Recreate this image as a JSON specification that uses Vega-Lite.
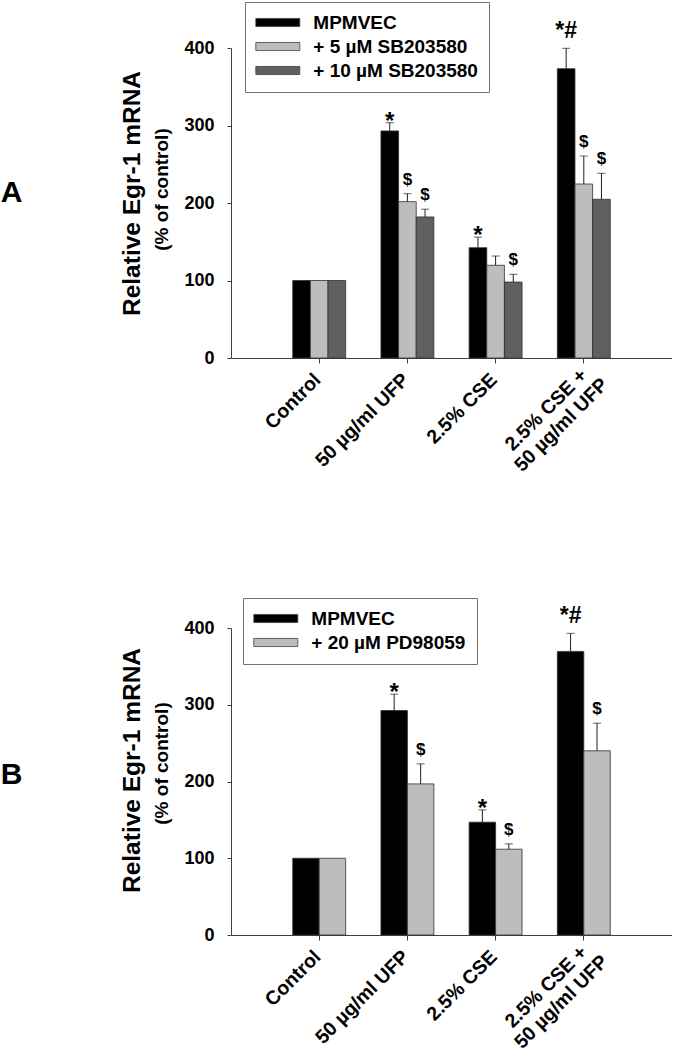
{
  "$schema": "https://vega.github.io/schema/vega-lite/v6.json",
  "padding": {"left": 0, "top": 1, "right": 0, "bottom": 0},
  "background": "white",
  "config": {
    "font": "Liberation Sans",
    "view": {"stroke": null},
    "axis": {
      "labelFont": "Liberation Sans", "labelFontWeight": "bold", "labelColor": "black",
      "titleFont": "Liberation Sans", "titleFontWeight": "bold", "titleColor": "black",
      "domainColor": "#404040", "tickColor": "#404040", "grid": false
    },
    "legend": {
      "labelFont": "Liberation Sans", "labelFontWeight": "bold", "labelFontSize": 19, "labelColor": "black", "labelLimit": 300,
      "symbolType": "M-3,-0.55H3V0.55H-3Z", "symbolSize": 215, "symbolOpacity": 1,
      "symbolStrokeColor": "#404040", "symbolStrokeWidth": 0.8, "symbolOffset": 12.3,
      "strokeColor": "#707070", "fillColor": "white", "padding": 11, "rowPadding": 4, "labelOffset": 26
    }
  },
  "datasets": {
    "a": [
      {"cat": "Control", "series": "MPMVEC", "value": 100, "upper": null, "sig": ""},
      {"cat": "Control", "series": "+ 5 µM SB203580", "value": 100, "upper": null, "sig": ""},
      {"cat": "Control", "series": "+ 10 µM SB203580", "value": 100, "upper": null, "sig": ""},
      {"cat": "50 µg/ml UFP", "series": "MPMVEC", "value": 293, "upper": 303.6, "sig": "*"},
      {"cat": "50 µg/ml UFP", "series": "+ 5 µM SB203580", "value": 201.7, "upper": 212, "sig": "$"},
      {"cat": "50 µg/ml UFP", "series": "+ 10 µM SB203580", "value": 182, "upper": 192, "sig": "$"},
      {"cat": "2.5% CSE", "series": "MPMVEC", "value": 142.3, "upper": 156, "sig": "*"},
      {"cat": "2.5% CSE", "series": "+ 5 µM SB203580", "value": 119.6, "upper": 131.6, "sig": ""},
      {"cat": "2.5% CSE", "series": "+ 10 µM SB203580", "value": 98, "upper": 108, "sig": "$"},
      {"cat": "2.5% CSE + 50 µg/ml UFP", "series": "MPMVEC", "value": 373.3, "upper": 399.6, "sig": "*#"},
      {"cat": "2.5% CSE + 50 µg/ml UFP", "series": "+ 5 µM SB203580", "value": 224.5, "upper": 260.6, "sig": "$"},
      {"cat": "2.5% CSE + 50 µg/ml UFP", "series": "+ 10 µM SB203580", "value": 204.8, "upper": 238.3, "sig": "$"}
    ],
    "b": [
      {"cat": "Control", "series": "MPMVEC", "value": 100, "upper": null, "sig": ""},
      {"cat": "Control", "series": "+ 20 µM PD98059", "value": 100, "upper": null, "sig": ""},
      {"cat": "50 µg/ml UFP", "series": "MPMVEC", "value": 292.5, "upper": 313.8, "sig": "*"},
      {"cat": "50 µg/ml UFP", "series": "+ 20 µM PD98059", "value": 196.9, "upper": 223, "sig": "$"},
      {"cat": "2.5% CSE", "series": "MPMVEC", "value": 147, "upper": 163, "sig": "*"},
      {"cat": "2.5% CSE", "series": "+ 20 µM PD98059", "value": 111.8, "upper": 118.7, "sig": "$"},
      {"cat": "2.5% CSE + 50 µg/ml UFP", "series": "MPMVEC", "value": 369.5, "upper": 393, "sig": "*#"},
      {"cat": "2.5% CSE + 50 µg/ml UFP", "series": "+ 20 µM PD98059", "value": 240, "upper": 276, "sig": "$"}
    ]
  },
  "spacing": 122,
  "resolve": {"scale": {"color": "independent", "xOffset": "independent"}, "legend": {"color": "independent"}},
  "vconcat": [
    {
      "title": {"text": "A", "orient": "left", "angle": 0, "align": "right", "baseline": "middle", "fontSize": 30, "fontWeight": "bold", "offset": 75, "dy": -10, "color": "black", "font": "Liberation Sans"},
      "width": 441, "height": 310,
      "data": {"name": "a"},
      "layer": [
        {
          "encoding": {
            "x": {"field": "cat", "type": "nominal", "sort": ["Control", "50 µg/ml UFP", "2.5% CSE", "2.5% CSE + 50 µg/ml UFP"],
              "scale": {"paddingInner": 0.4, "paddingOuter": 0.7},
              "axis": {"title": null, "labelAngle": -45, "labelFontSize": 19.5, "tickSize": 5,
                "labelAlign": {"condition": {"test": "datum.value == '2.5% CSE + 50 µg/ml UFP'", "value": "center"}, "value": "right"},
                "labelOffset": {"condition": {"test": "datum.value == '2.5% CSE + 50 µg/ml UFP'", "value": -44}, "value": -8},
                "labelPadding": {"condition": {"test": "datum.value == '2.5% CSE + 50 µg/ml UFP'", "value": 40}, "value": 7},
                "labelExpr": "datum.label == '2.5% CSE + 50 µg/ml UFP' ? ['2.5% CSE +', '50 µg/ml UFP'] : datum.label"}},
            "xOffset": {"field": "series", "type": "nominal", "sort": ["MPMVEC", "+ 5 µM SB203580", "+ 10 µM SB203580"], "scale": {"domain": ["MPMVEC", "+ 5 µM SB203580", "+ 10 µM SB203580"], "paddingInner": 0, "paddingOuter": 0}}
          },
          "layer": [
            {"mark": {"type": "bar", "stroke": "#303030", "strokeWidth": 0.8},
             "encoding": {
               "y": {"field": "value", "type": "quantitative", "scale": {"domain": [0, 400]},
                 "axis": {"values": [0, 100, 200, 300, 400], "title": "(% of control)", "titleFontSize": 19, "titlePadding": 12, "titleY": 141, "labelFontSize": 18, "tickSize": 4, "labelPadding": 13}},
               "color": {"field": "series", "type": "nominal", "sort": ["MPMVEC", "+ 5 µM SB203580", "+ 10 µM SB203580"],
                 "scale": {"domain": ["MPMVEC", "+ 5 µM SB203580", "+ 10 µM SB203580"], "range": ["#000000", "#bdbdbd", "#606060"]},
                 "legend": {"title": null, "orient": "none", "legendX": 14, "legendY": -46}}
             }},
            {"transform": [{"filter": "datum.upper != null"}], "mark": {"type": "rule", "color": "#202020", "strokeWidth": 1},
             "encoding": {"y": {"field": "value", "type": "quantitative"}, "y2": {"field": "upper"}}},
            {"transform": [{"filter": "datum.upper != null"}], "mark": {"type": "tick", "orient": "horizontal", "color": "#202020", "thickness": 1, "size": 8},
             "encoding": {"y": {"field": "upper", "type": "quantitative"}}},
            {"transform": [{"filter": "datum.sig == '$'"}], "mark": {"type": "text", "fontSize": 17, "fontWeight": "bold", "baseline": "alphabetic", "dy": -9, "color": "black"},
             "encoding": {"y": {"field": "upper", "type": "quantitative"}, "text": {"field": "sig"}}},
            {"transform": [{"filter": "datum.sig == '*'"}], "mark": {"type": "text", "fontSize": 24, "fontWeight": "bold", "baseline": "alphabetic", "dy": 6, "color": "black"},
             "encoding": {"y": {"field": "upper", "type": "quantitative"}, "text": {"field": "sig"}}},
            {"transform": [{"filter": "datum.sig == '*#'"}], "mark": {"type": "text", "fontSize": 23, "fontWeight": "bold", "baseline": "alphabetic", "dy": -10, "color": "black"},
             "encoding": {"y": {"field": "upper", "type": "quantitative"}, "text": {"field": "sig"}}}
          ]
        },
        {"mark": {"type": "rule", "opacity": 0},
         "encoding": {"y": {"field": "value", "type": "quantitative", "scale": {"domain": [0, 400]},
           "axis": {"orient": "left", "title": "Relative Egr-1 mRNA", "titleFontSize": 24.5, "labels": false, "ticks": false, "domain": false, "titlePadding": 87, "titleY": 145}}}}
      ],
      "resolve": {"scale": {"y": "independent"}, "axis": {"y": "independent"}}
    },
    {
      "title": {"text": "B", "orient": "left", "angle": 0, "align": "right", "baseline": "middle", "fontSize": 30, "fontWeight": "bold", "offset": 75, "dy": -7, "color": "black", "font": "Liberation Sans"},
      "width": 441, "height": 307,
      "data": {"name": "b"},
      "layer": [
        {
          "encoding": {
            "x": {"field": "cat", "type": "nominal", "sort": ["Control", "50 µg/ml UFP", "2.5% CSE", "2.5% CSE + 50 µg/ml UFP"],
              "scale": {"paddingInner": 0.4, "paddingOuter": 0.7},
              "axis": {"title": null, "labelAngle": -45, "labelFontSize": 19.5, "tickSize": 5,
                "labelAlign": {"condition": {"test": "datum.value == '2.5% CSE + 50 µg/ml UFP'", "value": "center"}, "value": "right"},
                "labelOffset": {"condition": {"test": "datum.value == '2.5% CSE + 50 µg/ml UFP'", "value": -44}, "value": -8},
                "labelPadding": {"condition": {"test": "datum.value == '2.5% CSE + 50 µg/ml UFP'", "value": 40}, "value": 7},
                "labelExpr": "datum.label == '2.5% CSE + 50 µg/ml UFP' ? ['2.5% CSE +', '50 µg/ml UFP'] : datum.label"}},
            "xOffset": {"field": "series", "type": "nominal", "sort": ["MPMVEC", "+ 20 µM PD98059"], "scale": {"domain": ["MPMVEC", "+ 20 µM PD98059"], "paddingInner": 0, "paddingOuter": 0}}
          },
          "layer": [
            {"mark": {"type": "bar", "stroke": "#303030", "strokeWidth": 0.8},
             "encoding": {
               "y": {"field": "value", "type": "quantitative", "scale": {"domain": [0, 400]},
                 "axis": {"values": [0, 100, 200, 300, 400], "title": "(% of control)", "titleFontSize": 19, "titlePadding": 12, "titleY": 135, "labelFontSize": 18, "tickSize": 4, "labelPadding": 13}},
               "color": {"field": "series", "type": "nominal", "sort": ["MPMVEC", "+ 20 µM PD98059"],
                 "scale": {"domain": ["MPMVEC", "+ 20 µM PD98059"], "range": ["#000000", "#bdbdbd"]},
                 "legend": {"title": null, "orient": "none", "legendX": 12, "legendY": -30}}
             }},
            {"transform": [{"filter": "datum.upper != null"}], "mark": {"type": "rule", "color": "#202020", "strokeWidth": 1},
             "encoding": {"y": {"field": "value", "type": "quantitative"}, "y2": {"field": "upper"}}},
            {"transform": [{"filter": "datum.upper != null"}], "mark": {"type": "tick", "orient": "horizontal", "color": "#202020", "thickness": 1, "size": 8},
             "encoding": {"y": {"field": "upper", "type": "quantitative"}}},
            {"transform": [{"filter": "datum.sig == '$'"}], "mark": {"type": "text", "fontSize": 17, "fontWeight": "bold", "baseline": "alphabetic", "dy": -9, "color": "black"},
             "encoding": {"y": {"field": "upper", "type": "quantitative"}, "text": {"field": "sig"}}},
            {"transform": [{"filter": "datum.sig == '*'"}], "mark": {"type": "text", "fontSize": 24, "fontWeight": "bold", "baseline": "alphabetic", "dy": 6, "color": "black"},
             "encoding": {"y": {"field": "upper", "type": "quantitative"}, "text": {"field": "sig"}}},
            {"transform": [{"filter": "datum.sig == '*#'"}], "mark": {"type": "text", "fontSize": 23, "fontWeight": "bold", "baseline": "alphabetic", "dy": -10, "color": "black"},
             "encoding": {"y": {"field": "upper", "type": "quantitative"}, "text": {"field": "sig"}}}
          ]
        },
        {"mark": {"type": "rule", "opacity": 0},
         "encoding": {"y": {"field": "value", "type": "quantitative", "scale": {"domain": [0, 400]},
           "axis": {"orient": "left", "title": "Relative Egr-1 mRNA", "titleFontSize": 24.5, "labels": false, "ticks": false, "domain": false, "titlePadding": 87, "titleY": 142}}}}
      ],
      "resolve": {"scale": {"y": "independent"}, "axis": {"y": "independent"}}
    }
  ]
}
